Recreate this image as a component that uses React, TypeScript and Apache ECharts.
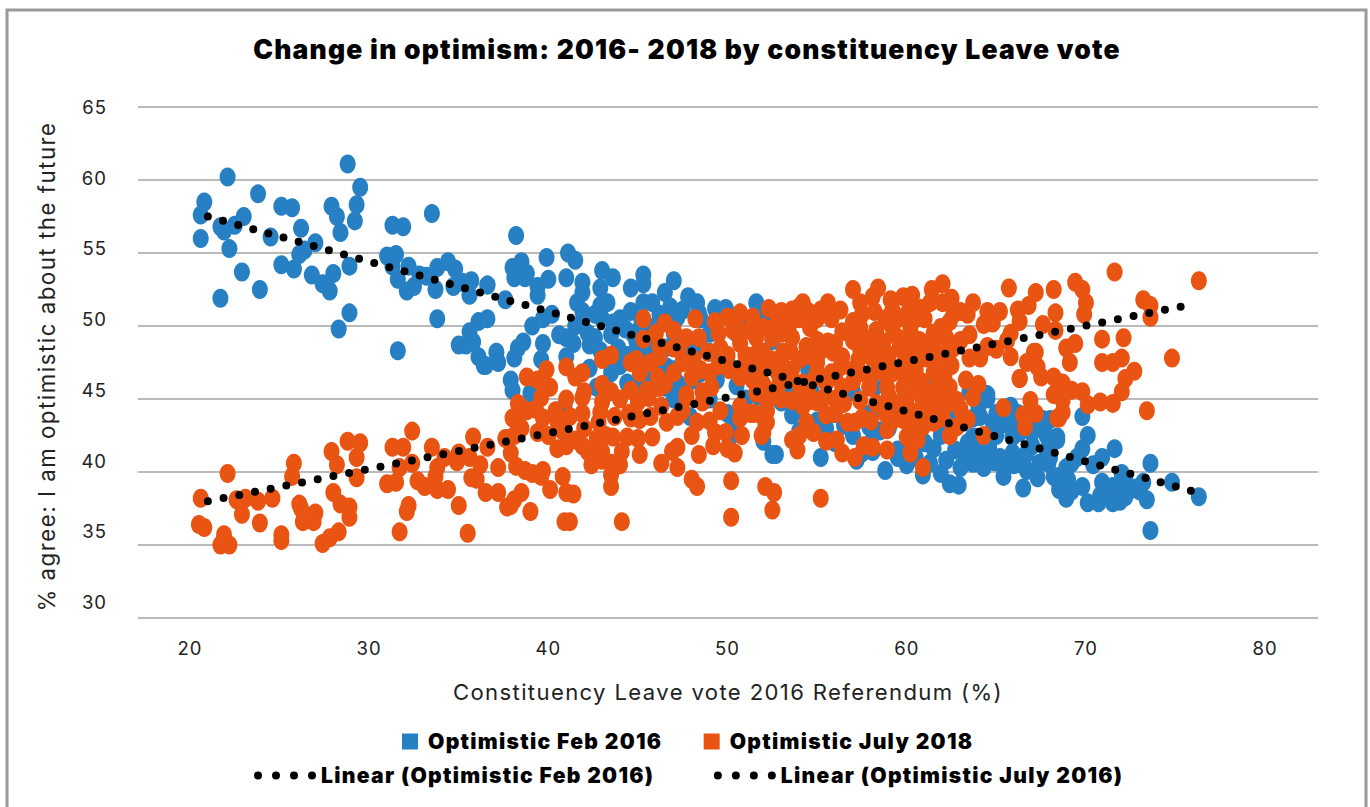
import React, { useEffect, useRef } from "react";
import * as echarts from "echarts";

const TITLE = "Change in optimism: 2016- 2018 by constituency Leave vote";
const X_NAME = "Constituency Leave vote 2016 Referendum (%)";
const Y_NAME = "% agree: I am optimistic about the future";
const X_TICKS = [20, 30, 40, 50, 60, 70, 80];
const Y_TICKS = [30, 35, 40, 45, 50, 55, 60, 65];
const SERIES_NAMES = ["Optimistic Feb 2016", "Optimistic July 2018", "Linear (Optimistic Feb 2016)", "Linear (Optimistic July 2016)"];

const feb2016: number[][] = [
[20.6,56.0],[20.6,57.6],[20.8,58.5],[22.1,60.2],[21.7,56.8],[21.9,56.5],[22.5,56.9],[23.0,57.5],[22.2,55.3],[22.9,53.7],[23.9,52.5],[21.7,51.9],[23.8,59.05],[25.1,58.2],[25.7,58.1],[24.5,56.1],[26.2,56.7],[27.0,55.7],[26.1,54.9],[26.4,55.2],[25.1,54.2],[25.8,53.9],[26.8,53.5],[27.4,52.9],[27.8,52.4],[28.0,53.6],[27.9,58.2],[28.2,57.5],[28.4,56.4],[28.8,61.1],[29.5,59.5],[29.3,58.3],[29.2,57.2],[28.9,54.1],[28.9,50.9],[28.3,49.8],[31.3,56.9],[31.9,56.8],[31.0,54.8],[31.5,54.9],[31.3,54.1],[31.6,53.2],[32.2,54.1],[32.1,52.4],[32.5,52.7],[32.8,53.5],[33.2,53.4],[33.7,52.5],[33.5,57.7],[33.8,54.0],[34.4,54.4],[34.8,53.9],[34.7,52.7],[33.8,50.5],[31.6,48.3],
[35.2,53.0],[35.7,53.1],[35.6,52.1],[36.6,52.8],[35.0,48.7],[35.4,48.7],[35.6,49.6],[36.1,50.3],[35.8,48.9],[36.1,47.9],[36.4,47.3],
[38.2,56.2],[38.0,54.0],[38.5,54.4],[38.1,53.3],[38.8,53.6],[38.7,53.3],[39.4,52.7],[39.4,52.1],[40.0,53.2],[39.9,54.7],[41.1,55.0],[41.5,54.5],[41.0,53.3],[41.9,53.0],[41.9,52.3],[41.6,51.6],[41.9,51.0],[43.0,53.8],[43.6,53.3],[42.9,52.6],[43.3,51.6],[42.9,51.4],[42.6,50.8],[43.6,50.2],[44.6,52.6],[45.3,53.5],[45.3,52.9],[46.5,52.3],[47.0,53.1],[47.8,52.0],[48.3,51.6],[49.3,51.2],[49.9,51.2],[51.6,51.6],[44.6,51.0],[45.3,51.6],[45.8,51.6],[46.8,51.3],[47.5,51.1],[36.6,52.8],[37.6,51.8],[36.6,50.5],[39.1,50.0],[39.7,50.5],[40.2,50.8],[38.6,48.9],[38.3,48.5],[38.1,47.8],[39.7,48.8],[40.6,49.4],[41.4,48.8],[41.0,49.2],[42.2,49.5],[42.6,49.2],[43.5,49.4],[43.9,48.5],[39.6,47.7],[41.0,47.9],[42.3,47.1],[43.5,46.8],[42.7,45.8],[43.5,45.5],[37.9,46.3],[38.0,45.6],[37.1,48.2],[37.2,47.5],[36.5,47.3],[39.0,45.4],[40.9,44.5],[44.4,46.1],[47.2,46.1],[48.1,46.3],[44.9,49.0],[49.4,46.3],[49.0,48.2],[47.9,43.8],[45.1,47.7],[46.6,47.2],[48.1,47.5],[45.8,46.5],[47.5,45.6],
[48.5,50.5],[49,49.5],[50,50.8],[50.5,49.5],[51,50.2],[52,50.5],[52.5,49],[46,50],[47,49.5],[45.5,49.5],[48,49],[50,47.5],[51.5,47],[53,47.5],[52,45.5],[53.5,46],[54.5,47],[55,45],[56,44],[57,45.5],[58,44],[59,43],[60,43.5],[61,42],[62,43],[56.5,43.2],[55.5,42.5],[54,44.2],[53,44.8],[58,42],[59.5,41.5],[57.5,41.3],[60.5,41],[63,44],[64,44.5],[65,44],[62,45.5],[63.5,45.5],[64.5,45],[61,46],[52,44],[51,45],[50,44],[49,45],
[52.5,41.2],[52.7,41.2],[55.2,41.0],[53.6,43.9],[58.8,40.1],[60.9,39.8],[57.2,40.8],[58.1,41.4],[59.5,41.0],[55.5,43.0],[52.9,45.1],[56.3,44.9],[57.9,43.1],[64.5,45.3],[65.8,44.5],[63.0,40.3],[61.9,39.9],[62.4,39.2],[62.9,39.1],[62.2,40.8],[61.5,41.6],[63.7,40.6],[64.3,40.3],[65.4,40.3],[65.4,39.7],[66.5,38.9],[67.3,39.6],[66.7,40.1],[67.4,40.6],[68.2,39.7],[68.5,38.8],[64.1,43.8],[63.4,42.0],[63.7,42.4],[64.8,43.4],[65.9,42.4],[67.0,42.7],[67.6,43.6],[68.4,42.4],[65.9,41.3],[66.7,41.3],[64.6,41.7],[63.9,41.5],
[73.6,36.0],[76.3,38.3],[74.8,39.3],[73.6,40.6],[73.4,38.1],[73.2,39.3],[71.6,41.6],[72.0,39.9],[70.9,41.0],[70.1,42.5],[69.8,43.8],[69.8,41.6],[70.1,37.9],[69.8,39.0],[68.9,38.2],[68.7,38.9],[68.3,39.6],[68.9,40.3],[69.5,41.0],[68.4,42.2],[68.0,43.6],[70.9,39.3],[70.8,38.4],[71.5,37.9],[72.2,38.3],[71.5,39.0],[72.5,38.8],[72.8,38.9],[71.9,39.2],[71.2,38.8],[69.2,40.6],[68.5,39.7],
[45,48.5],[45.5,48],[46.5,48.5],[47.5,48],[48.5,48.5],[44.5,48],[45,46],[46,47],[47,47],[48.5,46.8],[46.5,45.8],[47,45],[44,47.3],[46,48.5],[44.3,49.8],[45.2,50.2],[46.2,50.8],[47.2,50.6],[48.4,50.9],[49.4,50.5],[47,50.2],[44,50.5],[44.7,49.5],[42.3,48.7],[42.9,48.3],[41.5,50],[43,50.5],[43.4,47.8],
[65,42.5],[65.5,43.3],[66.3,42.7],[66.2,44],[67,41.8],[67.8,41.5],[67.2,43],[66.5,40.8],[65.2,41],[66,40.5],[64.7,42.5],[67.9,40.6],[68,41],[69,39.5],[69.2,38.7],[64.2,41],[64.9,40.7],[63.3,41],[62.7,41.5],[61.9,42.5],[62.5,44],[63.7,43.7],[60.5,42.5],[60,40.5],[58.5,42.8],[59.2,44.3],[58.2,45.8],[61.3,44.6],[61.3,40.6],[66,43.3],[67.8,42.5],[70.7,37.9],[71.9,38],[72.2,39.5],[70.4,40.5],[73,38.7],[72,38.7],[71.4,38.3],[57,42.5],[56,42],[55,43.5],[54.7,45.5],[53.5,45.2],[54,42.8],[50.5,45.9],[51.7,45.2],[50.3,43.1],[50.1,42.3],[52.0,42.1],
];

const july2018: number[][] = [
[20.6,38.2],[20.5,36.4],[20.8,36.2],[22.1,39.9],[21.9,35.7],[21.7,35.0],[22.2,35.0],[22.6,38.1],[23.1,38.2],[22.9,37.1],[23.8,38.0],[24.6,38.2],[23.9,36.5],[25.1,35.7],[25.1,35.3],[25.7,39.7],[25.8,40.6],[26.1,37.8],[26.2,37.5],[26.3,36.6],[26.9,36.6],[27.0,37.2],[27.4,35.1],[27.8,35.5],[28.3,35.9],[28.0,38.6],[28.4,37.8],[28.9,37.6],[28.9,36.9],[27.9,41.4],[28.2,40.5],[28.8,42.1],[29.5,42.0],[29.3,41.0],[29.3,39.6],[31.0,39.2],[31.5,39.3],[31.3,41.7],[31.9,41.7],[31.7,40.3],[32.4,40.6],[32.4,42.8],[32.2,37.7],[32.1,37.3],[31.7,35.9],[32.7,39.4],[33.1,39.0],[33.5,41.7],[33.7,39.7],[33.8,38.8],[34.4,38.8],[33.8,40.3],[34.2,41.0],[34.9,40.7],[35.0,41.3],[35.8,42.4],[35.6,41.0],[36.2,40.5],[36.6,41.7],[35.7,39.6],[36.0,39.5],[36.5,38.6],[37.2,38.6],[35.0,37.7],[35.5,35.8],[37.2,40.3],[37.6,42.3],[38.1,42.5],[38.1,43.7],[38.4,44.5],[38.2,40.4],[38.7,40.1],[37.7,37.6],[38.1,38.1],[38.5,38.6],[39.0,37.3],
[38.3,44.7],[38.8,44.2],[38.0,43.7],[37.7,42.3],[39.1,39.9],[39.7,40.1],[39.6,39.7],[40.1,38.8],[40.8,39.7],[41.0,38.6],[41.4,38.5],[37.9,37.7],[40.9,36.6],[41.2,36.6],[44.1,36.6],[40.5,41.6],[39.4,42.7],[39.7,43.7],[40.4,44.2],[41.5,42.2],[41.2,43.8],[41.9,45.1],[41.9,44.0],[43.0,44.8],[42.9,44.1],[42.8,43.4],[41.9,41.8],[42.4,40.5],[42.2,41.4],[43.0,41.4],[43.5,39.0],[43.5,39.8],[43.5,40.6],[44.1,41.4],[44.6,45.6],[45.1,41.2],[43.7,43.8],[44.6,43.7],[43.6,42.4],[44.4,42.4],[45.0,42.3],[45.8,42.4],[45.5,45.6],[46.1,45.8],[45.1,43.6],[45.7,43.8],[46.6,43.4],[47.2,43.8],[47.7,45.1],[48.3,43.4],[48.0,42.5],[48.4,41.2],[47.2,41.7],[46.9,41.4],[46.3,40.6],[47.2,40.3],[48.0,39.5],[48.3,39.0],[50.2,39.4],[50.2,36.9],[52.1,39.0],[52.6,38.6],[52.5,37.4],[49.2,41.8],[49.3,42.7],[49.9,42.7],[50.0,41.6],[50.4,41.3],[49.6,44.2],[50.7,43.7],[51.3,44.0],[51.9,42.5],[52.1,43.4],[52.2,44.2],[48.6,44.8],
[45.3,50.5],[45.3,49.1],[46.5,50.2],[47.0,49.7],[48.2,50.5],[48.4,49.2],[49.3,50.3],[50.0,50.6],[50.7,50.9],[51.4,50.6],[52.3,51.2],[52.6,49.9],[47.7,49.2],[46.2,48.6],[47.3,48.4],[48.9,48.2],[49.6,48.5],[50.7,48.8],[51.6,49.2],[43.0,47.7],[43.5,48.0],[38.8,46.5],[39.9,47.0],[39.4,46.3],[40.1,45.8],[39.6,45.1],[41.0,47.2],[41.9,46.8],[41.5,46.5],[44.6,47.5],[44.9,47.7],[45.7,47.5],[46.2,47.9],[48.1,47.7],[47.5,47.5],[45.1,46.8],[46.1,46.5],[46.2,45.8],[45.6,45.1],[47.7,45.3],[48.6,45.5],[49.1,45.8],[50.1,47.0],[50.7,46.5],[51.4,46.3],[52.4,47.7],[52.2,44.9],[51.6,45.4],[50.7,44.5],
[54.2,51.6],[55.6,51.6],[57.0,52.5],[58.4,52.6],[59.1,51.8],[59.8,52.0],[60.3,52.1],[61.4,52.5],[62.0,52.9],[62.5,51.9],[63.7,51.6],[64.5,51.0],[65.2,51.0],[65.7,52.6],[67.2,52.3],[68.2,52.5],[66.8,51.4],[66.2,51.1],[66.3,50.3],[67.6,50.1],[68.3,49.7],[64.8,50.2],[64.3,50.1],[63.4,50.8],[62.6,50.8],[61.9,49.9],[60.7,49.0],[62.2,49.2],[63.5,49.4],[63.5,47.8],[64.5,48.6],[64.1,47.8],[65.0,48.4],[65.8,47.9],[65.6,49.0],[59.6,48.5],[61.1,47.8],[62.1,46.6],[66.3,46.4],[66.7,47.5],[67.2,48.2],[67.3,47.2],[67.5,46.5],[68.2,46.5],[68.2,45.3],[66.9,44.9],[66.5,43.9],[67.2,44.0],[66.6,43.1],[65.4,44.4],[68.4,43.7],[64.3,42.5],[63.4,43.6],[62.4,42.5],[62.8,43.1],[63.3,46.3],[64.0,46.0],[63.7,45.1],[62.8,44.9],[61.9,45.1],[60.9,40.3],[60.2,41.3],[60.6,42.2],[60.0,42.4],[58.9,42.9],[59.8,43.6],[60.9,43.1],[61.5,43.4],[59.8,45.8],[60.6,45.6],[60.9,44.9],[58.9,41.5],[58.1,41.7],[57.6,41.8],[57.1,41.0],[56.4,41.3],[56.1,42.2],[55.5,42.1],[56.7,43.4],[57.1,43.4],[54.8,42.7],[54.4,43.4],[53.9,41.5],[53.6,42.2],[55.5,43.9],[54.2,44.5],[53.6,44.9],[52.2,43.4],[52.0,42.7],[55.2,38.2],[55.5,46.1],[54.6,44.9],[56.4,45.8],[57.4,44.9],[58.3,44.7],[57.9,45.8],[58.9,45.8],[57.4,46.8],[58.4,47.0],[59.2,46.8],[56.3,47.2],[55.0,47.5],[53.6,47.0],[52.8,47.5],[54.2,46.1],[52.9,46.1],[55.3,48.4],[56.4,47.9],[57.4,48.4],[58.3,48.2],[56.4,49.6],[57.4,49.9],[58.3,49.7],[59.2,49.9],[60.2,49.9],[54.6,49.9],[53.5,50.2],[52.8,50.6],[53.6,51.1],[55.2,51.1],[56.3,51.1],[57.4,51.6],[58.1,52.0],[59.2,51.1],[60.2,51.3],[61.3,51.6],[62.0,51.6],[53.6,49.2],[52.5,49.2],[54.4,48.6],[53.1,48.2],[52.0,48.2],[52.0,49.9],
[71.6,53.7],[76.3,53.1],[69.4,53.0],[69.8,52.5],[70.0,51.6],[69.9,50.8],[68.3,50.9],[73.2,51.8],[73.6,51.4],[73.6,50.6],[70.9,49.1],[72.1,49.2],[74.8,47.8],[69.4,48.8],[68.9,48.5],[70.9,47.5],[71.5,47.5],[72.0,47.8],[69.1,47.5],[72.7,46.9],[72.2,46.4],[72.0,45.5],[71.5,44.7],[70.8,44.8],[70.1,44.6],[69.8,45.5],[69.2,45.6],[68.7,46.1],[68.3,45.4],[68.7,44.9],[68.7,44.1],[68.5,43.7],[66.3,46.4],[67.1,48.2],[65.8,49.5],[73.4,44.2],
[42.0,45.5],[41,45],[40.5,43.5],[42.5,41.5],[43,40.8],[41,41.8],[44.5,44],[50.5,50],[51.5,48],[53,49.5],[53,51],[54,50.5],[54.5,48],[55,49],[55,50.5],[56,48.8],[57,49],[57.5,50.8],[58,49],[58.8,50.5],[59.5,50.5],[60,49],[60.5,50.5],[61,50.5],[61.5,49.5],[59,48],[58.5,47.5],[56,46.5],[57,47],[54,46],[53,45],[54.5,45.5],[52,46],[51,47.5],
[46,49.5],[47,48.5],[48.5,47],[49.5,47.3],[51,48],[51.8,47],[49.5,49.5],[50.3,49.7],[51.2,49.7],[50,48],[48,46.5],[49,46.8],[53.5,48.3],[55.8,50.5],[54.5,51],[54.9,46.5],[56,45],[58,46.5],[59.5,47],[60.5,47],[60.3,48.2],[61.5,46.8],[62,48],[61,48.8],[60,46.5],[58.8,44],[59.5,44.7],[61.5,44.3],[62,43.7],[60.2,44.2],[57.5,43.7],[56,44],[58,43.5],[55,44.8],[54,42.5],[52.8,46.8],[52.5,45.5],[51.5,44],[47,46.8],[46.5,46],[44,45],[43.5,45.5],[43,46],[40.8,42.8],[42,43],[43.2,42.5],[45,44.8],[46.3,44.5],[47.5,44.2],[49,43.5],[50.8,42.5],[42.7,42.3],[44,40.5],[39.3,44.3],[40,42.5],[38.5,43],[37.9,41.3],[63,49],
[54.0,51.3],[57,50.3],[58.2,51],[59,50.3],[60,50.8],[60.8,51.2],[62.4,50.3],[63,51],[55.6,48.9],[57,49.3],[57.8,49.1],[58.7,48.9],[59.5,49.2],[60.3,49.3],[61.5,48.5],[62.6,48.5],[53,47.8],[54,47.7],[55,47.9],[55.9,48.2],[57.3,47.7],[58,47.9],[58.9,47.4],[59.9,47.6],[60.6,47.9],[61.7,47.6],[62.5,47.3],[53.3,46.4],[55,46.9],[55.8,46.8],[57,46.2],[58.9,46.5],[59.8,46.8],[60.8,46.2],[61.8,46.2],[62.4,45.8],[54,45],[55.3,45],[56.5,44.7],[59,45.2],[60,45],[61.2,45.5],[62.4,44.8],[63,44.3],[62,44.3],[61,44],[59.2,43.5],[60.4,43.4],
];

const feb2016Trend: number[][] = [[21.0, 57.5], [75.9, 38.7]];
const july2018Trend: number[][] = [[21.0, 38.0], [75.6, 51.4]];

const BLUE = "#2780c4";
const ORANGE = "#ea5412";
const FONT = "Inter";
const DOTS_ICON = "path://M0 4a4 4 0 1 0 8 0a4 4 0 1 0-8 0zM18 4a4 4 0 1 0 8 0a4 4 0 1 0-8 0zM36 4a4 4 0 1 0 8 0a4 4 0 1 0-8 0zM54 4a4 4 0 1 0 8 0a4 4 0 1 0-8 0z";

// Inter is narrower than the reference's typeface: each text size gets its own tracking.
const TRACKING_CSS = `
text[style*="26.5px"]{letter-spacing:1.2px}
text[style*="21.1px"]{letter-spacing:1.3px}
text[style*="22.2px"]{letter-spacing:1.55px}
text[style*="22.1px"]{letter-spacing:1.37px}
text[style*="18.5px"]{letter-spacing:1px}
`;

export default function App() {
  const ref = useRef<HTMLDivElement>(null);
  useEffect(() => {
    document.body.style.margin = "0";
    document.body.style.overflow = "hidden";
    const chart = echarts.init(ref.current!, null, { renderer: "svg" });
    const legendText = { fontFamily: FONT, fontWeight: 900, fontSize: 21.1, color: "#000" };
    chart.setOption({
      animation: false,
      backgroundColor: "#fff",
      textStyle: { fontFamily: FONT },
      title: {
        text: TITLE,
        left: 682,
        textAlign: "center",
        top: 30,
        textStyle: { fontFamily: FONT, fontWeight: 900, fontSize: 26.5, color: "#000" },
      },
      grid: { left: 138, top: 107, width: 1180, height: 511 },
      xAxis: {
        type: "value",
        min: 17.1,
        max: 82.95,
        name: X_NAME,
        nameLocation: "middle",
        nameGap: 63,
        nameTextStyle: { fontFamily: FONT, fontSize: 22.1, color: "#222" },
        axisLine: { show: false },
        axisTick: { show: false },
        splitLine: { show: false },
        axisLabel: { customValues: X_TICKS, margin: 20, fontFamily: FONT, fontSize: 18.5, color: "#222" },
      },
      yAxis: [
        {
          type: "value",
          min: 30,
          max: 65,
          interval: 5,
          axisLine: { show: false },
          axisTick: { show: false },
          axisLabel: { show: false },
          splitLine: { show: true, lineStyle: { color: "#a3a3a3", width: 1.5 } },
        },
        {
          type: "value",
          position: "left",
          min: 28.87,
          max: 65,
          name: Y_NAME,
          nameLocation: "middle",
          nameGap: 81,
          nameRotate: 90,
          nameTextStyle: { fontFamily: FONT, fontSize: 22.2, color: "#222", padding: [0, 8, 0, 0] },
          axisLine: { show: false },
          axisTick: { show: false },
          splitLine: { show: false },
          axisLabel: { customValues: Y_TICKS, margin: 31, fontFamily: FONT, fontSize: 18.5, color: "#222" },
        },
      ],
      legend: [
        {
          left: 402,
          top: 731,
          padding: 0,
          orient: "horizontal",
          itemWidth: 16,
          itemHeight: 16,
          itemGap: 66,
          icon: "rect",
          data: [SERIES_NAMES[0], SERIES_NAMES[1]],
          textStyle: { ...legendText, padding: [0, 0, 0, 5] },
        },
        {
          left: 254,
          top: 765,
          padding: 0,
          orient: "horizontal",
          itemWidth: 62,
          itemHeight: 8,
          itemGap: 96,
          icon: DOTS_ICON,
          data: [SERIES_NAMES[2], SERIES_NAMES[3]],
          textStyle: legendText,
        },
      ],
      graphic: [
        {
          type: "rect",
          silent: true,
          shape: { x: 7, y: 10, width: 1359, height: 900 },
          style: { fill: "none", stroke: "#9a9a9a", lineWidth: 3 },
        },
      ],
      series: [
        { name: SERIES_NAMES[0], type: "scatter", data: feb2016, symbol: "circle", symbolSize: [16, 19], itemStyle: { color: BLUE, opacity: 1 }, z: 2 },
        { name: SERIES_NAMES[1], type: "scatter", data: july2018, symbol: "circle", symbolSize: [16, 19], itemStyle: { color: ORANGE, opacity: 1 }, z: 3 },
        { name: SERIES_NAMES[2], type: "line", data: feb2016Trend, showSymbol: false, itemStyle: { color: "#000" }, lineStyle: { color: "#000", width: 8, type: [0, 15.7], cap: "round" }, z: 4 },
        { name: SERIES_NAMES[3], type: "line", data: july2018Trend, showSymbol: false, itemStyle: { color: "#000" }, lineStyle: { color: "#000", width: 8, type: [0, 16], cap: "round" }, z: 4 },
      ],
    });
    return () => chart.dispose();
  }, []);
  return (
    <>
      <style>{TRACKING_CSS}</style>
      <div ref={ref} style={{ width: 1370, height: 807 }} />
    </>
  );
}
